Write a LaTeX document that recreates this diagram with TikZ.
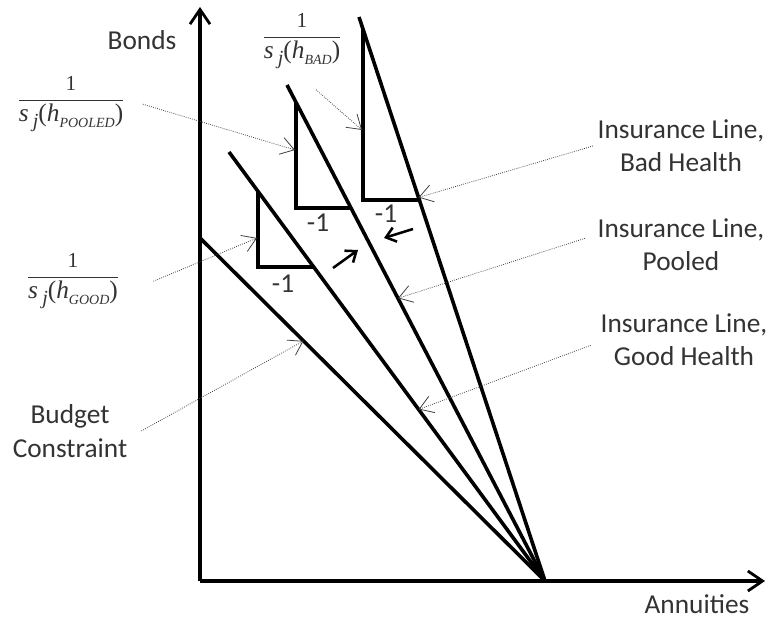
\documentclass[tikz,border=0pt]{standalone}
\usepackage{amsmath}
\usepackage{fontspec}
\setmainfont{Carlito}
\newfontfamily\timesfont{Liberation Serif}
\usetikzlibrary{arrows.meta,calc}
\definecolor{txtgray}{HTML}{333333}
\newcommand{\recip}[1]{$\dfrac{\mbox{\fontsize{16}{16}\selectfont 1}}{\mbox{\itshape s\,\raisebox{-4.5pt}{\fontsize{15}{15}\selectfont j}\upshape(\itshape h\raisebox{-4pt}{\fontsize{10.5}{11}\selectfont #1}\upshape)}}$}

\begin{document}
\begin{tikzpicture}[x=0.75pt,y=-0.75pt,
  axis/.style={line width=2.3pt,-{Straight Barb[length=11pt,width=15pt,line width=2.1pt]}},
  budget/.style={line width=2.7pt},
  rise/.style={line width=2.6pt},
  pointer/.style={densely dotted,line width=0.6pt,black!75,-{Straight Barb[length=10pt,width=13pt,line width=0.6pt]}},
  nudge/.style={line width=1.9pt,-{Straight Barb[length=7pt,width=11pt,line width=1.9pt]}},
  lbl/.style={text=txtgray,font=\fontsize{20.5}{25}\selectfont,align=center},
  frac/.style={text=txtgray,anchor=base,font=\timesfont\fontsize{19}{21}\selectfont}]
\useasboundingbox (0,0) rectangle (767,620);
\coordinate (O) at (200,581);
\coordinate (P) at (545,581);
\draw[axis] (O) -- (200,7);
\draw[axis] (O) -- (765,581);
\coordinate (budgetTop) at (200,238);
\coordinate (goodTop) at (229,152);
\coordinate (pooledTop) at (287,85);
\coordinate (badTop) at (359,17);
\foreach \top in {budgetTop,goodTop,pooledTop,badTop}
  \draw[budget] (\top) -- (P);
\draw[rise] (258,191) |- (314,267);
\draw[rise] (296,103) |- (352,208);
\draw[rise] (363,29) |- (420,200);
\node[lbl] (runGood) at (283,284) {-1};
\node[lbl] (runPooled) at (318,223) {-1};
\node[lbl] (runBad) at (386,214) {-1};
\draw[nudge] (333,268) -- (358,250);
\draw[nudge] (413,229) -- (384,238);
\node[lbl] (bonds) at (142,40) {Bonds};
\node[lbl] (annuities) at (697,604) {Annuities};
\node[lbl] (budgetLbl) at (70,431) {Budget\\Constraint};
\node[lbl] (badLbl) at (681,146) {Insurance Line,\\Bad Health};
\node[lbl] (pooledLbl) at (681,245) {Insurance Line,\\Pooled};
\node[lbl] (goodLbl) at (684,340) {Insurance Line,\\Good Health};
\node[frac] (fracBad) at (302,43) {\recip{BAD}};
\node[frac] (fracPooled) at (71,106) {\recip{POOLED}};
\node[frac] (fracGood) at (73,283) {\recip{GOOD}};
\coordinate (tipGoodRise) at (257,238);
\coordinate (tipPooledRise) at (295,150);
\coordinate (tipBadRise) at (362,130);
\coordinate (tipBudget) at ($(budgetTop)!0.3!(P)$);
\coordinate (tipBad) at ($(badTop)!0.32!(P)$);
\coordinate (tipPooled) at ($(pooledTop)!0.43!(P)$);
\coordinate (tipGood) at ($(goodTop)!0.6!(P)$);
\draw[pointer] ([shift={(10.5pt,-12pt)}]fracBad.south) -- (tipBadRise);
\draw[pointer] ([xshift=10pt]fracPooled.east) -- (tipPooledRise);
\draw[pointer] ([xshift=22pt]fracGood.east) -- (tipGoodRise);
\draw[pointer] ([xshift=7pt]budgetLbl.east) -- (tipBudget);
\draw[pointer] (badLbl.west) -- (tipBad);
\draw[pointer] ([shift={(-6pt,5pt)}]pooledLbl.west) -- (tipPooled);
\draw[pointer] ([shift={(-4pt,-4pt)}]goodLbl.west) -- (tipGood);
\end{tikzpicture}
\end{document}
